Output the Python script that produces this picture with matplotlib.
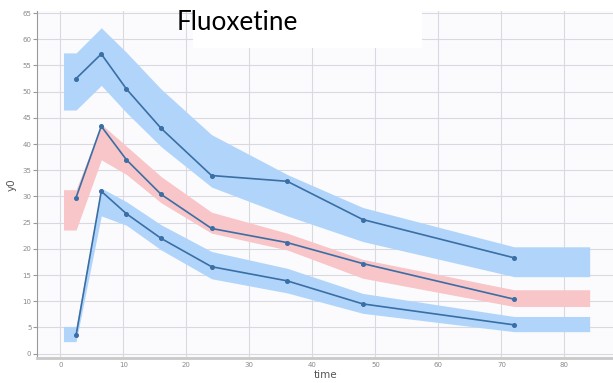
import matplotlib
matplotlib.use("Agg")
import matplotlib.pyplot as plt
from matplotlib.patches import Rectangle

# Observed data (time points and medians)
time = [2.5, 6.5, 10.5, 16, 24, 36, 48, 72]
high = [52.5, 57.2, 50.5, 43.0, 34.0, 32.9, 25.6, 18.3]
mid = [29.8, 43.4, 37.0, 30.4, 23.9, 21.2, 17.2, 10.4]
low = [3.5, 31.0, 26.7, 22.0, 16.6, 13.9, 9.5, 5.5]

# Prediction interval bands
band_t = [0.5, 2.5, 6.5, 10.5, 16, 24, 36, 48, 72, 84]
high_up = [57.4, 57.4, 62.2, 57.5, 50.5, 41.8, 34.2, 27.9, 20.4, 20.4]
high_lo = [46.5, 46.5, 51.2, 46.0, 39.5, 31.8, 26.3, 21.4, 14.7, 14.7]
mid_up = [31.3, 31.3, 43.8, 39.6, 33.8, 27.0, 23.0, 18.0, 12.2, 12.2]
mid_lo = [23.6, 23.6, 37.0, 34.2, 28.8, 23.0, 19.8, 14.4, 9.0, 9.0]
low_up = [5.2, 5.2, 31.6, 29.0, 24.6, 19.5, 16.3, 11.5, 7.1, 7.1]
low_lo = [2.3, 2.3, 26.3, 24.5, 19.8, 14.3, 11.6, 7.7, 4.2, 4.2]

xticks = [0, 10, 20, 30, 40, 50, 60, 70, 80]
yticks = list(range(0, 70, 5))

W, H = 613, 383
fig = plt.figure(figsize=(W / 100, H / 100), dpi=100)
fig.patch.set_facecolor("white")
ax = fig.add_axes([37 / W, (H - 358.3) / H, (613 - 37) / W, (358.3 - 11) / H])
ax.set_facecolor("#fbfbfd")

blue_band = "#b1d5fa"
red_band = "#f8c5c8"
line_c = "#3a6ea5"

ax.fill_between(band_t, high_lo, high_up, color=blue_band, lw=0, zorder=2)
ax.fill_between(band_t, mid_lo, mid_up, color=red_band, lw=0, zorder=2)
ax.fill_between(band_t, low_lo, low_up, color=blue_band, lw=0, zorder=2)

for s in (high, mid, low):
    ax.plot(time, s, color=line_c, lw=1.2, marker="o", ms=2.6, zorder=3)

ax.set_xlim(-3.7, 87.7)
ax.set_ylim(-0.88, 65.4)
ax.set_xticks(xticks)
ax.set_yticks(yticks)
ax.grid(True, color="#d9d9e1", lw=0.8, zorder=0)
ax.set_axisbelow(True)

for sp in ("top", "right"):
    ax.spines[sp].set_visible(False)
ax.spines["left"].set_color("#9a9a9a")
ax.spines["left"].set_linewidth(0.8)
ax.spines["bottom"].set_color("#c9c9c9")
ax.spines["bottom"].set_linewidth(2)

ax.tick_params(axis="y", length=3, width=0.8, color="#9a9a9a", labelsize=5, labelcolor="#8a8a8a", pad=1)
ax.tick_params(axis="x", length=0, labelsize=5, labelcolor="#8a8a8a", pad=3)

ax.set_xlabel("time", fontsize=7.5, color="#555555", labelpad=1)
ax.set_ylabel("y0", fontsize=7.5, color="#555555", labelpad=4)

# Title box
fig.patches.append(Rectangle((193 / W, (H - 48) / H), (422 - 193) / W, 48 / H,
                             transform=fig.transFigure, facecolor="white",
                             edgecolor="none", zorder=5))
fig.text(177 / W, (H - 30) / H, "Fluoxetine", fontsize=18.8, family=["Lato", "DejaVu Sans"],
         color="black", ha="left", va="baseline", zorder=6)

fig.savefig("out.png", dpi=100)
